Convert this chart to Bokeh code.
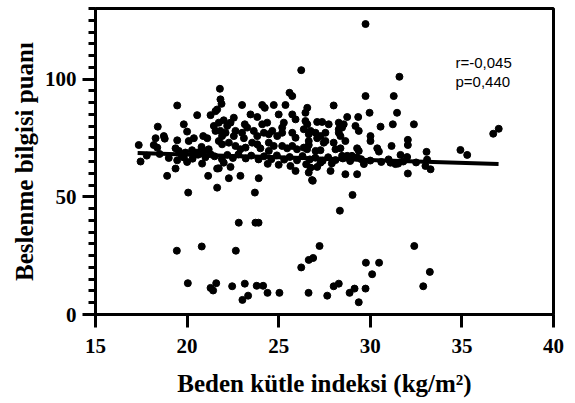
from bokeh.plotting import figure
from bokeh.models import FixedTicker, SingleIntervalTicker, Label, Range1d
from bokeh.embed import file_html
from bokeh.resources import INLINE

# Body mass index (x) and nutrition knowledge score (y)
bmi = [
    # low scores
    19.44, 20.8, 22.66, 22.82, 23.73, 23.9, 26.23, 20.04, 21.28, 21.42, 21.59, 22.46, 23.15, 23.02,
    23.33, 23.8, 24.15, 24.39, 25.04, 28.34, 27.23, 26.64, 26.88, 26.63, 27.65, 28.0, 28.28, 28.87,
    29.14, 29.37, 29.74, 29.76, 30.48, 30.1, 32.4, 33.25, 32.89, 29.03, 20.06, 21.64, 23.7, 26.86,
    18.91, 21.15, 22.28, 22.91, 23.91, 26.82, 28.64, 29.28, 32.05, 26.64,
    # around the fit line
    17.8, 18.5, 19.0, 19.7, 20.3, 20.6, 21.0, 21.5, 21.9, 22.2, 22.5, 22.8, 23.2, 23.5, 23.9, 24.2,
    24.6, 24.9, 25.3, 25.6, 26.0, 26.3, 26.7, 27.0, 27.4, 27.7, 28.1, 28.5, 28.9, 29.5, 30.0, 30.6,
    31.0, 31.8, 32.5, 33.1, 22.0, 24.4, 26.5, 27.9, 20.0, 25.0,
    17.46, 19.46, 20.82, 21.64, 19.37, 21.73, 22.37, 25.64, 25.92, 26.74, 27.1, 27.28, 27.83,
    29.65, 31.1, 31.37, 31.52, 33.01, 33.29,
    # upper cloud
    19.46, 20.55, 21.28, 21.79, 21.64, 18.4, 19.82, 20.0, 18.73, 18.78, 18.28, 17.36, 19.46, 20.09,
    20.37, 20.88, 21.1, 21.46, 21.55, 18.18, 18.37, 19.37, 19.55, 19.91, 19.82, 20.27, 20.55, 20.79,
    20.91, 21.18, 21.28,
    26.23, 21.82, 21.88, 23.0, 24.1, 24.24, 24.73, 25.37, 25.59, 25.74, 26.56, 26.46, 23.46, 23.83,
    25.0, 21.55, 21.73, 22.0, 22.19, 22.37, 22.55, 23.15, 23.28, 24.1, 24.37, 25.28, 25.19, 25.74,
    25.92, 26.46, 26.56, 21.82, 21.91, 22.1, 22.64, 22.55, 23.0, 23.1, 23.64, 23.83, 24.19, 24.46,
    24.65, 24.92, 25.19, 25.74, 25.92, 26.37, 26.64, 21.73, 21.91, 22.28, 22.64, 22.91, 23.19, 23.55,
    23.83, 24.0, 24.46, 24.73, 24.46, 25.19, 25.46, 25.74, 26.0, 26.37, 26.64,
    31.59, 29.74, 31.28, 28.0, 29.96, 31.46, 28.74, 29.34, 27.1, 27.37, 27.73, 28.28, 28.55, 28.46,
    28.28, 29.19, 29.37, 30.56, 31.23, 26.74, 27.01, 27.28, 27.55, 28.28, 28.37, 30.01, 30.01, 26.64,
    27.1, 27.46, 27.55, 28.0, 28.64, 26.55, 27.01, 27.28, 28.1, 28.37, 29.28, 29.37, 30.38, 30.47,
    31.16, 28.46, 28.74, 29.0, 29.28,
    32.38, 32.05, 32.05, 36.71, 37.01, 34.92, 35.29, 33.07, 31.65, 32.01, 29.74,
]
score = [
    27.1, 28.9, 27.1, 39.0, 39.0, 39.0, 20.0, 13.3, 11.3, 10.2, 13.3, 12.0, 13.1, 6.2,
    8.0, 12.2, 12.2, 9.2, 9.2, 44.1, 29.1, 23.2, 24.0, 9.2, 8.0, 12.0, 13.1, 9.2,
    11.0, 5.2, 11.0, 22.0, 22.0, 17.1, 29.1, 18.1, 12.0, 50.8, 51.8, 53.9, 51.8, 56.8,
    58.9, 58.9, 57.9, 58.9, 57.9, 57.1, 59.6, 59.6, 59.9, 60.3,
    67.5, 68.2, 66.5, 67.8, 66.2, 67.9, 66.8, 67.2, 66.0, 67.8, 66.5, 68.0, 66.3, 67.5, 65.9, 67.2,
    66.0, 67.6, 65.8, 66.9, 65.5, 67.3, 65.9, 66.6, 65.3, 66.8, 65.6, 66.3, 65.2, 66.0, 65.4, 64.8,
    65.9, 65.0, 64.6, 65.8, 64.5, 64.0, 63.8, 64.2, 64.8, 63.6,
    65.0, 65.5, 64.1, 62.0, 62.0, 62.1, 62.7, 63.1, 61.0, 62.4, 62.7, 64.5, 61.0,
    63.9, 64.5, 63.9, 64.1, 63.1, 61.7,
    88.8, 84.7, 84.7, 95.9, 87.1, 79.8, 80.8, 77.7, 75.8, 74.7, 74.9, 72.0, 74.0, 73.7,
    74.9, 75.8, 74.9, 80.1, 78.0, 72.0, 70.9, 70.6, 69.5, 68.8, 66.7, 69.8, 68.8, 71.2,
    69.5, 70.2, 68.1,
    103.8, 91.4, 89.5, 89.0, 89.0, 87.8, 89.0, 89.0, 94.2, 92.8, 87.8, 85.7, 85.0, 83.9,
    85.0, 86.4, 81.5, 82.5, 80.1, 81.5, 83.6, 80.8, 79.4, 80.8, 81.5, 81.5, 79.4, 85.0,
    82.9, 82.2, 80.8, 78.0, 75.8, 77.2, 78.0, 75.8, 77.2, 74.9, 78.0, 75.8, 77.2, 76.6,
    78.0, 75.8, 77.2, 77.2, 75.1, 78.7, 76.6, 73.7, 72.3, 73.0, 71.6, 70.2, 70.9, 73.0,
    72.3, 70.6, 73.0, 71.6, 69.5, 71.6, 70.6, 71.6, 70.2, 70.9, 72.0,
    101.0, 92.8, 92.8, 88.8, 85.7, 85.7, 83.9, 83.9, 81.8, 81.8, 80.8, 81.5, 80.8, 79.4,
    78.7, 80.1, 78.0, 79.8, 80.8, 78.0, 77.2, 75.8, 77.2, 77.2, 75.8, 75.8, 73.7, 73.7,
    74.9, 73.0, 73.7, 73.0, 73.7, 70.2, 69.5, 69.8, 70.2, 70.6, 70.6, 69.5, 70.6, 69.2,
    71.6, 67.4, 67.4, 67.4, 66.7,
    80.8, 74.2, 72.0, 76.8, 78.9, 69.9, 67.8, 69.1, 67.8, 66.9, 123.4,
]

# Fitted regression line end points
fit_x = [17.3, 37.0]
fit_y = [68.6, 63.9]

x_ticks = [15, 20, 25, 30, 35, 40]
y_major_step = 50
y_minor_per_major = 10

stats_lines = ["r=-0,045", "p=0,440"]

p = figure(width=575, height=403, output_backend="svg", toolbar_location=None,
           x_range=Range1d(15, 40), y_range=Range1d(0, 130),
           min_border_left=95, min_border_right=22, min_border_top=8, min_border_bottom=89)
p.grid.visible = False
p.outline_line_color = "black"
p.outline_line_width = 3
p.background_fill_color = "white"
p.border_fill_color = "white"

p.scatter(bmi, score, size=7, color="black")
p.line(fit_x, fit_y, line_width=4, color="black")

serif = "Liberation Serif"
for ax in (p.xaxis[0], p.yaxis[0]):
    ax.axis_line_width = 3
    ax.major_tick_line_width = 3
    ax.minor_tick_line_width = 3
    ax.major_tick_in = 0
    ax.major_tick_out = 13
    ax.minor_tick_in = 0
    ax.minor_tick_out = 7
    ax.major_label_text_font = serif
    ax.major_label_text_font_style = "bold"
    ax.major_label_text_font_size = "21px"
    ax.major_label_text_color = "black"
    ax.axis_label_text_font = serif
    ax.axis_label_text_font_style = "bold"
    ax.axis_label_text_font_size = "25px"
    ax.axis_label_text_color = "black"

p.xaxis.ticker = FixedTicker(ticks=x_ticks)
p.xaxis.minor_tick_line_color = None
p.xaxis.major_label_standoff = 11
p.xaxis.axis_label = "Beden kütle indeksi (kg/m²)"
p.xaxis.axis_label_standoff = 14

p.yaxis.ticker = SingleIntervalTicker(interval=y_major_step, num_minor_ticks=y_minor_per_major)
p.yaxis.major_label_standoff = 6
p.yaxis.axis_label = "Beslenme bilgisi puanı"
p.yaxis.axis_label_standoff = 4

for i, t in enumerate(stats_lines):
    p.add_layout(Label(x=34.65, y=110.8 - i * 8.2, text=t, text_font="Liberation Sans",
                       text_font_size="15px", text_baseline="top", text_color="black"))

open("out.html", "w").write(file_html(p, INLINE))
